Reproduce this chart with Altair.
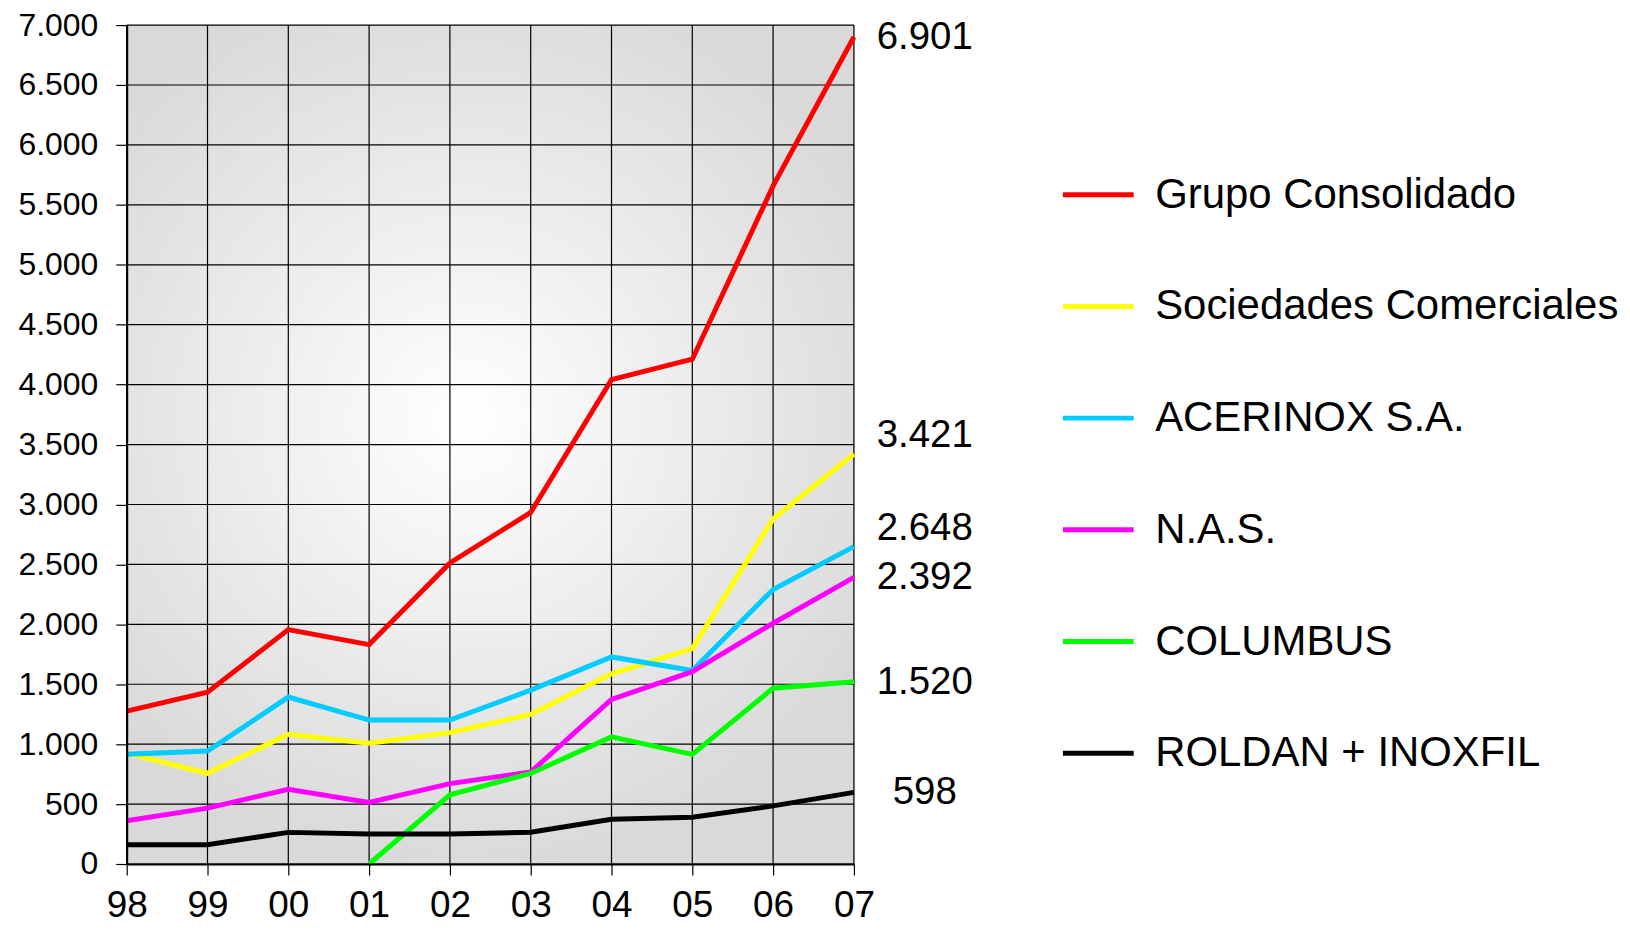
import altair as alt
import pandas as pd

years = ["98", "99", "00", "01", "02", "03", "04", "05", "06", "07"]
series_names = ["Grupo Consolidado", "Sociedades Comerciales", "ACERINOX S.A.",
                "N.A.S.", "COLUMBUS", "ROLDAN + INOXFIL"]
series_colors = ["#ff0000", "#ffff00", "#00ccff", "#ff00ff", "#00ff00", "#000000"]

grupo = [1276, 1434, 1956, 1831, 2512, 2934, 4042, 4212, 5658, 6901]
sociedades = [925, 757, 1082, 1007, 1096, 1248, 1587, 1797, 2880, 3421]
acerinox = [916, 943, 1393, 1201, 1201, 1451, 1728, 1615, 2291, 2648]
nas = [361, 466, 624, 513, 671, 767, 1373, 1605, 2009, 2392]
columbus = [None, None, None, 0, 577, 756, 1061, 915, 1467, 1520]
roldan = [161, 161, 264, 250, 250, 265, 374, 390, 485, 598]

y_ticks = list(range(0, 7001, 500))

# series whose end label is lifted above its line end
lifted = ["Sociedades Comerciales", "ACERINOX S.A."]

rows = []
for k, (name, vals) in enumerate(zip(series_names,
                                     [grupo, sociedades, acerinox, nas, columbus, roldan])):
    for i, (yr, v) in enumerate(zip(years, vals)):
        if v is not None:
            rows.append({"year": yr, "value": v, "series": name, "k": k, "idx": i})
df = pd.DataFrame(rows)
last = df[df["year"] == years[-1]].copy()

FONT = "Liberation Sans"

x_scale = alt.Scale(type="point", padding=0, domain=years)
y_scale = alt.Scale(domain=[0, 7000], nice=False)

x_axis = alt.Axis(title=None, labelAngle=0, labelFontSize=37, labelFont=FONT,
                  labelColor="black", tickSize=11, tickColor="black", tickWidth=1.2,
                  labelPadding=13, domainColor="black", domainWidth=2,
                  grid=False, zindex=1)
y_axis = alt.Axis(title=None, values=y_ticks, labelFontSize=32, labelFont=FONT,
                  labelColor="black", tickSize=11, tickColor="black", tickWidth=1.2,
                  labelPadding=18, domainColor="black", domainWidth=2,
                  grid=False, zindex=1,
                  labelExpr="replace(format(datum.value, ','), ',', '.')")

gradient = {"gradient": "radial", "x1": 0.47, "y1": 0.47, "x2": 0.47, "y2": 0.47,
            "r1": 0, "r2": 0.55,
            "stops": [{"offset": 0, "color": "#ffffff"},
                      {"offset": 1, "color": "#d9d9d9"}]}

panel = pd.DataFrame({"x0": [years[0]], "x1": [years[-1]], "y0": [0], "y1": [7000]})
background = alt.Chart(panel).mark_rect(fill=gradient, stroke=None).encode(
    x=alt.X("x0:N", scale=x_scale, axis=x_axis, sort=years),
    x2="x1:N",
    y=alt.Y("y0:Q", scale=y_scale, axis=y_axis),
    y2="y1:Q",
)

vgrid = alt.Chart(pd.DataFrame({"year": years})).mark_rule(
    color="black", strokeWidth=1.2).encode(x=alt.X("year:N", sort=years))
hgrid = alt.Chart(pd.DataFrame({"value": y_ticks})).mark_rule(
    color="black", strokeWidth=1.2).encode(y="value:Q")

color_enc = alt.Color("series:N",
                      scale=alt.Scale(domain=series_names, range=series_colors),
                      legend=alt.Legend(title=None, orient="none", legendX=936, legendY=132,
                                        symbolType="stroke", symbolSize=5041,
                                        symbolStrokeWidth=5, labelFontSize=42,
                                        labelFont=FONT, labelColor="black",
                                        labelOffset=19, rowPadding=53, padding=0,
                                        labelLimit=0))

lines = alt.Chart(df).mark_line(strokeWidth=5, strokeJoin="miter").encode(
    x=alt.X("year:N", sort=years), y="value:Q", color=color_enc,
    order="idx:Q"
)

label_text = "replace(format(datum.value, ','), ',', '.')"

labels_plain = alt.Chart(last).transform_filter(
    alt.FieldOneOfPredicate(field="series", oneOf=[s for s in series_names if s not in lifted])
).transform_calculate(txt=label_text).mark_text(
    align="center", baseline="middle", dx=71, dy=0, fontSize=38.5, font=FONT, color="black"
).encode(x=alt.X("year:N", sort=years), y="value:Q", text="txt:N")

labels_lifted = alt.Chart(last).transform_filter(
    alt.FieldOneOfPredicate(field="series", oneOf=lifted)
).transform_calculate(txt=label_text).mark_text(
    align="center", baseline="middle", dx=71, dy=-19, fontSize=38.5, font=FONT, color="black"
).encode(x=alt.X("year:N", sort=years), y="value:Q", text="txt:N")

chart = alt.layer(background, vgrid, hgrid, lines, labels_plain, labels_lifted).properties(
    width=729, height=841,
    autosize=alt.AutoSizeParams(type="none"),
    padding={"left": 119, "top": 16, "right": 770, "bottom": 61},
).configure_view(stroke=None).configure(background="white")

chart.save("out.html", embed_options={"renderer": "svg", "actions": False})
